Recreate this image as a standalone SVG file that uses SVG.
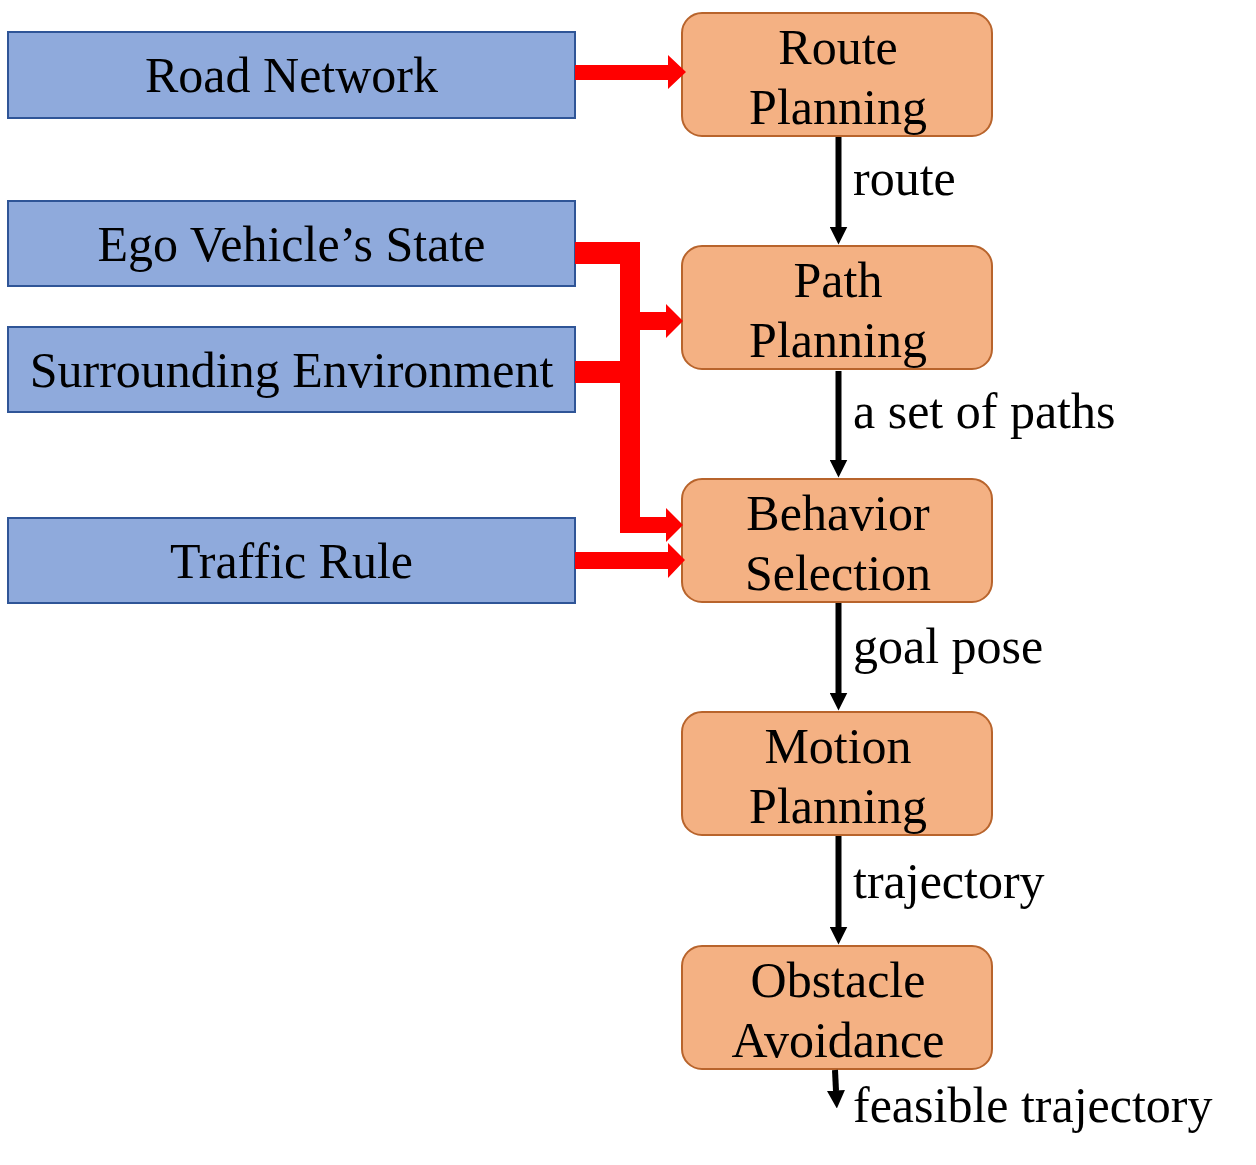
<svg xmlns="http://www.w3.org/2000/svg" width="1256" height="1165" viewBox="0 0 1256 1165">
<style>
text { font-family: "Liberation Serif", "Times New Roman", serif; font-size: 50px; fill: #000; }
.c { text-anchor: middle; }
.in { fill: #8FAADC; stroke: #2F5597; stroke-width: 2; }
.st { fill: #F4B183; stroke: #B8642C; stroke-width: 2; }
.red { fill: #FF0000; stroke: none; }
.blk { stroke: #000; stroke-width: 6; fill: none; }
</style>
<defs>
<marker id="ah" viewBox="0 0 18 18" refX="0.5" refY="9" markerWidth="18" markerHeight="18" markerUnits="userSpaceOnUse" orient="auto">
<path d="M0,0 L18,9 L0,18 Z" fill="#000"/>
</marker>
</defs>
<rect width="1256" height="1165" fill="#fff"/>
<g id="road-network">
<rect class="in" x="8" y="32" width="567" height="86"/>
<text class="c" x="291.5" y="92">Road Network</text>
</g>
<g id="ego-state">
<rect class="in" x="8" y="201" width="567" height="85"/>
<text class="c" x="291.5" y="261">Ego Vehicle’s State</text>
</g>
<g id="surrounding">
<rect class="in" x="8" y="327" width="567" height="85"/>
<text class="c" x="291.5" y="387">Surrounding Environment</text>
</g>
<g id="traffic-rule">
<rect class="in" x="8" y="518" width="567" height="85"/>
<text class="c" x="291.5" y="578">Traffic Rule</text>
</g>
<g id="route-planning">
<rect class="st" x="682" y="13" width="310" height="123" rx="20"/>
<text class="c" x="838" y="64">Route</text>
<text class="c" x="838" y="124">Planning</text>
</g>
<g id="path-planning">
<rect class="st" x="682" y="246" width="310" height="123" rx="20"/>
<text class="c" x="838" y="297">Path</text>
<text class="c" x="838" y="357">Planning</text>
</g>
<g id="behavior-selection">
<rect class="st" x="682" y="479" width="310" height="123" rx="20"/>
<text class="c" x="838" y="530">Behavior</text>
<text class="c" x="838" y="590">Selection</text>
</g>
<g id="motion-planning">
<rect class="st" x="682" y="712" width="310" height="123" rx="20"/>
<text class="c" x="838" y="763">Motion</text>
<text class="c" x="838" y="823">Planning</text>
</g>
<g id="obstacle-avoidance">
<rect class="st" x="682" y="946" width="310" height="123" rx="20"/>
<text class="c" x="838" y="997">Obstacle</text>
<text class="c" x="838" y="1057">Avoidance</text>
</g>
<g id="connectors">
<path class="red" d="M575,65 H668 V55 L686,72 L668,89 V80 H575 Z"/>
<path class="red" d="M575,242 H640 V312 H666 V304 L683,321 L666,338 V330 H640 V517 H666 V508 L683,525 L666,542 V533 H620 V383 H575 V361 H620 V264 H575 Z"/>
<path class="red" d="M575,552 H668 V543 L685,560 L668,578 V569 H575 Z"/>
<line class="blk" x1="838.5" y1="137" x2="838.5" y2="227" marker-end="url(#ah)"/>
<line class="blk" x1="838.5" y1="371" x2="838.5" y2="460" marker-end="url(#ah)"/>
<line class="blk" x1="838.5" y1="603" x2="838.5" y2="693" marker-end="url(#ah)"/>
<line class="blk" x1="838.5" y1="836" x2="838.5" y2="927" marker-end="url(#ah)"/>
<line class="blk" x1="835" y1="1070" x2="836" y2="1091" marker-end="url(#ah)"/>
<text x="853" y="195">route</text>
<text x="853" y="428">a set of paths</text>
<text x="853" y="663">goal pose</text>
<text x="853" y="898">trajectory</text>
<text x="853" y="1122">feasible trajectory</text>
</g>
</svg>
